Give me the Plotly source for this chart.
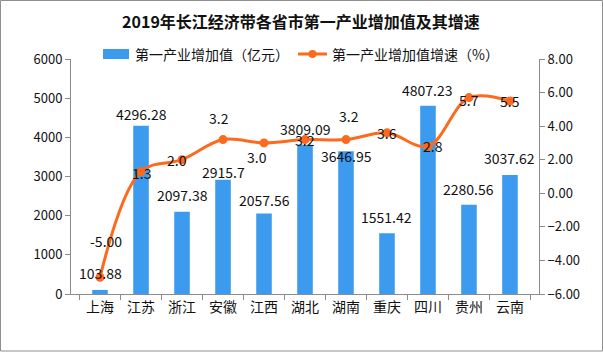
import plotly.graph_objects as go

categories = ["上海", "江苏", "浙江", "安徽", "江西", "湖北", "湖南", "重庆", "四川", "贵州", "云南"]
value_added = [103.88, 4296.28, 2097.38, 2915.7, 2057.56, 3809.09, 3646.95, 1551.42, 4807.23, 2280.56, 3037.62]
value_labels = ["103.88", "4296.28", "2097.38", "2915.7", "2057.56", "3809.09", "3646.95", "1551.42", "4807.23", "2280.56", "3037.62"]
growth = [-5.00, 1.3, 2.0, 3.2, 3.0, 3.2, 3.2, 3.6, 2.8, 5.7, 5.5]
growth_labels = ["-5.00", "1.3", "2.0", "3.2", "3.0", "3.2", "3.2", "3.6", "2.8", "5.7", "5.5"]

title = "2019年长江经济带各省市第一产业增加值及其增速"
bar_name = "第一产业增加值（亿元）"
line_name = "第一产业增加值增速（%）"

# label offsets (style only)
bar_label_yshift = [17, 12, 17, 8, 13, 16, -5, 16, 16, 16, 17]
line_label_yshift = [36, -2, 0, 22, -14, 0, 24, 0, 0, -2, 0]
line_label_xshift = [6, 0, -5, -4, -7, 0, 3, 0, 5, 0, 0]

FONT = "Noto Sans CJK SC, Noto Sans, sans-serif"
BAR_COLOR = "#3d9bef"
LINE_COLOR = "#fd6a1e"
AXIS_COLOR = "#8c8c8c"

# plot area geometry (pixels) for paper conversion
L, R, T, B = 71, 539, 59, 294
PW, PH = R - L, B - T


def px(x):
    return (x - L) / PW


def py(y):
    return (B - y) / PH


fig = go.Figure()
fig.add_trace(go.Bar(
    x=categories, y=value_added, name=bar_name,
    marker=dict(color=BAR_COLOR, line=dict(width=0)),
    width=0.38, yaxis="y", showlegend=False,
))
fig.add_trace(go.Scatter(
    x=categories, y=growth, name=line_name, yaxis="y2",
    mode="lines+markers",
    line=dict(color=LINE_COLOR, width=3, shape="spline", smoothing=1.0),
    marker=dict(color=LINE_COLOR, size=9), showlegend=False,
))

annotations = []
for c, v, t, s in zip(categories, value_added, value_labels, bar_label_yshift):
    annotations.append(dict(x=c, y=v, xref="x", yref="y", text=t, showarrow=False,
                            yanchor="middle", yshift=s,
                            font=dict(family=FONT, size=14, color="#111")))
for c, v, t, s, xs in zip(categories, growth, growth_labels, line_label_yshift, line_label_xshift):
    annotations.append(dict(x=c, y=v, xref="x", yref="y2", text=t, showarrow=False,
                            yanchor="middle", yshift=s, xshift=xs,
                            font=dict(family=FONT, size=14, color="#111")))

# custom legend
annotations.append(dict(x=px(133), y=py(54), xref="paper", yref="paper", text=bar_name,
                        showarrow=False, xanchor="left", yanchor="middle",
                        font=dict(family=FONT, size=14, color="#111")))
annotations.append(dict(x=px(330), y=py(54), xref="paper", yref="paper", text=line_name,
                        showarrow=False, xanchor="left", yanchor="middle",
                        font=dict(family=FONT, size=14, color="#111")))

shapes = [
    dict(type="rect", xref="paper", yref="paper",
         x0=px(0.5), x1=px(602.5), y0=py(351), y1=py(0.5),
         line=dict(color="#8f8f8f", width=1), fillcolor="rgba(0,0,0,0)", layer="below"),
    dict(type="rect", xref="paper", yref="paper",
         x0=px(103), x1=px(129), y0=py(59), y1=py(49),
         line=dict(width=0), fillcolor=BAR_COLOR),
    dict(type="line", xref="paper", yref="paper",
         x0=px(298), x1=px(327), y0=py(54), y1=py(54),
         line=dict(color=LINE_COLOR, width=3)),
    dict(type="circle", xref="paper", yref="paper",
         x0=px(308.5), x1=px(316.5), y0=py(58), y1=py(50),
         line=dict(width=0), fillcolor=LINE_COLOR),
]

fig.update_layout(
    width=603, height=352,
    margin=dict(l=L, r=603 - R, t=T, b=352 - B),
    paper_bgcolor="white", plot_bgcolor="white",
    font=dict(family=FONT, color="#111"),
    title=dict(text="<b>" + title + "</b>", x=px(301), xref="paper", xanchor="center",
               y=1 - 22 / 352, yref="container", yanchor="middle",
               font=dict(family=FONT, size=16, color="#111")),
    showlegend=False,
    bargap=0.62,
    xaxis=dict(
        type="category", showgrid=False, showline=True, linecolor=AXIS_COLOR, linewidth=1,
        ticks="outside", tickson="boundaries", ticklen=5, tickcolor=AXIS_COLOR,
        tickfont=dict(family=FONT, size=14, color="#111"),
    ),
    yaxis=dict(
        range=[0, 6000], dtick=1000, showgrid=False, zeroline=False,
        showline=True, linecolor=AXIS_COLOR, linewidth=1,
        ticks="outside", ticklen=5, tickcolor=AXIS_COLOR,
        tickfont=dict(family=FONT, size=13, color="#111"),
    ),
    yaxis2=dict(
        range=[-6, 8], dtick=2, tickformat=".2f", overlaying="y", side="right",
        showgrid=False, zeroline=False, showline=True, linecolor=AXIS_COLOR, linewidth=1,
        ticks="outside", ticklen=5, tickcolor=AXIS_COLOR,
        tickfont=dict(family=FONT, size=13, color="#111"),
    ),
    annotations=annotations,
    shapes=shapes,
)

fig.write_html("out.html")
